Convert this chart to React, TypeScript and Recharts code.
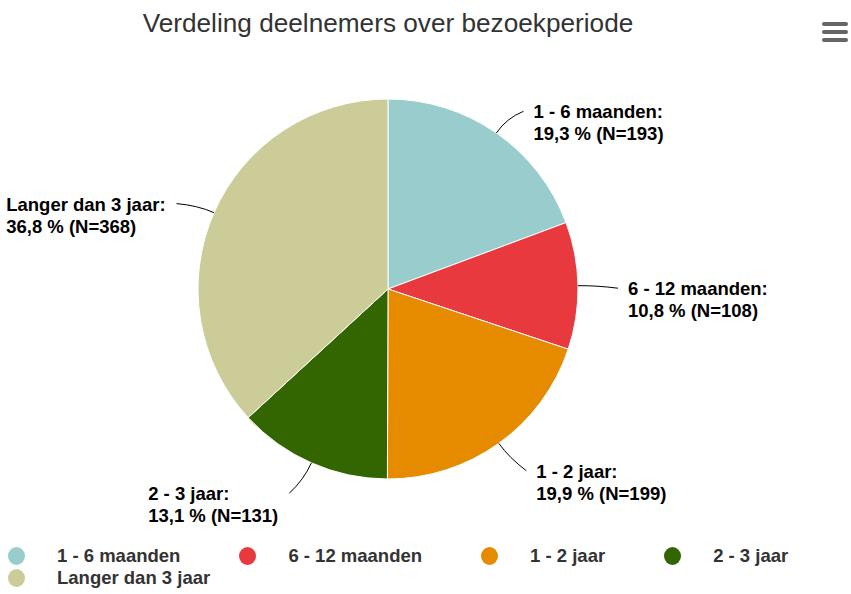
import React from "react";
import { Legend, Pie, PieChart, Cell } from "recharts";

const categories = ["1 - 6 maanden", "6 - 12 maanden", "1 - 2 jaar", "2 - 3 jaar", "Langer dan 3 jaar"];
const counts = [193, 108, 199, 131, 368];
const percentages = [19.3, 10.8, 19.9, 13.1, 36.8];
const colors = ["#99cccc", "#e8393e", "#e68a00", "#336600", "#cccc99"];

const data = categories.map((name, i) => ({ name, value: counts[i], pct: percentages[i] }));

const FONT = '"Liberation Sans", Arial, Helvetica, sans-serif';
const LABEL_SIZE = 18.5;
const RADIAN = Math.PI / 180;

let ctx: CanvasRenderingContext2D | null = null;
function measure(text: string, font: string) {
  if (!ctx) ctx = document.createElement("canvas").getContext("2d");
  if (!ctx) return text.length * 9;
  ctx.font = font;
  return ctx.measureText(text).width;
}

const fmt = (v: number) => v.toFixed(1).replace(".", ",");

function renderLabel(props: any) {
  const { cx, cy, midAngle, outerRadius, index } = props;
  const cos = Math.cos(-midAngle * RADIAN);
  const sin = Math.sin(-midAngle * RADIAN);
  const right = cos >= 0;
  const sign = right ? 1 : -1;
  const sx = cx + outerRadius * cos;
  const sy = cy + outerRadius * sin;
  const mx = cx + (outerRadius + 18) * cos;
  const my = cy + (outerRadius + 18) * sin;
  const ex = cx + (outerRadius + 30) * cos;
  const ey = cy + (outerRadius + 30) * sin;
  const line1 = `${categories[index]}:`;
  const line2 = `${fmt(percentages[index])} % (N=${counts[index]})`;
  const font = `bold ${LABEL_SIZE}px ${FONT}`;
  const w = Math.max(measure(line1, font), measure(line2, font));
  const tx = right ? ex + 20 : ex - 21 - w;
  return (
    <g>
      <path
        d={`M${sx},${sy} Q${mx},${my} ${ex + sign * 10},${ey + 3}`}
        stroke="#000"
        strokeWidth={1}
        fill="none"
      />
      <text x={tx} y={ey + 10} fontFamily={FONT} fontSize={LABEL_SIZE} fontWeight="bold" fill="#000" textAnchor="start">
        <tspan x={tx}>{line1}</tspan>
        <tspan x={tx} dy={22}>{line2}</tspan>
      </text>
    </g>
  );
}

function renderLegend() {
  return (
    <div style={{ display: "flex", flexWrap: "wrap", columnGap: 59, width: 835, fontFamily: FONT }}>
      {categories.map((c, i) => (
        <div key={c} style={{ display: "flex", alignItems: "center", height: 22 }}>
          <svg width={17} height={18} style={{ marginRight: 32 }}>
            <ellipse cx={8.5} cy={9} rx={8.5} ry={9} fill={colors[i]} />
          </svg>
          <span style={{ fontSize: LABEL_SIZE, fontWeight: "bold", color: "#333" }}>{c}</span>
        </div>
      ))}
    </div>
  );
}

export default function App() {
  return (
    <div style={{ position: "absolute", left: 0, top: 0, width: 851, height: 594, background: "#fff" }}>
      <div
        style={{
          position: "absolute",
          left: 0,
          top: 8,
          width: 776,
          textAlign: "center",
          fontFamily: FONT,
          fontSize: 26.2,
          color: "#333",
        }}
      >
        Verdeling deelnemers over bezoekperiode
      </div>
      <div style={{ position: "absolute", left: 822, top: 22 }}>
        {[0, 1, 2].map((i) => (
          <div key={i} style={{ width: 26, height: 4, borderRadius: 2, background: "#666", marginBottom: 4 }} />
        ))}
      </div>
      <PieChart width={851} height={594} margin={{ top: 0, right: 0, bottom: 0, left: 0 }}>
        <Pie
          data={data}
          dataKey="value"
          nameKey="name"
          cx={388}
          cy={289}
          outerRadius={190}
          startAngle={90}
          endAngle={-270}
          stroke="#fff"
          strokeWidth={1}
          label={renderLabel}
          labelLine={false}
          isAnimationActive={false}
        >
          {data.map((d, i) => (
            <Cell key={d.name} fill={colors[i]} />
          ))}
        </Pie>
        <Legend content={renderLegend} wrapperStyle={{ top: 545, left: 8, width: 835 }} />
      </PieChart>
    </div>
  );
}
